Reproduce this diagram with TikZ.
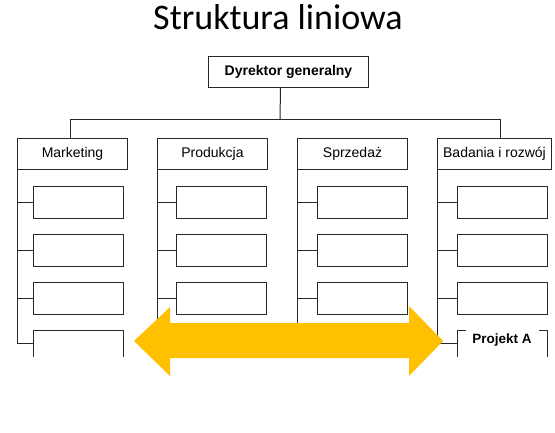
\documentclass[tikz,border=0pt]{standalone}
\usepackage{fontspec}
\setmainfont{Liberation Sans}
\newfontfamily\titlefont{Carlito}
\definecolor{amber}{RGB}{255,192,0}
\definecolor{linec}{RGB}{40,40,40}
\begin{document}
\begin{tikzpicture}[x=1pt,y=-1pt,line width=1pt,
  box/.style={draw=linec,minimum width=#1,minimum height=31pt,inner sep=0pt,anchor=north west,font=\fontsize{14}{16}\selectfont},
  sub/.style={draw=linec,minimum width=90pt,minimum height=32pt,inner sep=0pt,anchor=north west},
  conn/.style={draw=linec,line width=1pt},
  bigarrow/.style={fill=amber,draw=none}]
\useasboundingbox (0,0) rectangle (555,432);
\node[anchor=base,font=\titlefont\fontsize{36}{40}\selectfont] (title) at (278,29) {Struktura liniowa};
\node[box=160pt,font=\bfseries\fontsize{14}{16}\selectfont] (dg) at (208,56) {Dyrektor generalny};
\node[box=110pt] (mk) at (17,138) {Marketing};
\node[box=110pt] (pr) at (157,138) {Produkcja};
\node[box=110pt] (sp) at (297,138) {Sprzedaż};
\node[box=114pt] (br) at (437,138) {Badania i rozwój};
% top connectors
\coordinate (bus) at (280,119);
\draw[conn] ([xshift=-8pt]dg.south) -- (bus);
\draw[conn] ([xshift=-2pt]mk.north) |- (bus);
\draw[conn] ([xshift=6pt]br.north) |- (bus);
% columns
\foreach \c/\s in {mk/33,pr/176,sp/317,br/457}{
  \node[sub] (\c1) at (\s,186) {};
  \node[sub] (\c2) at (\s,234) {};
  \node[sub] (\c3) at (\s,282) {};
  \coordinate (\c4) at (\s,343);
  \draw[conn] (\c.south west) -- (\c4 -| \c.south west);
  \draw[conn] (\c1.west -| \c.south west) -- (\c1.west);
  \draw[conn] (\c2.west -| \c.south west) -- (\c2.west);
  \draw[conn] (\c3.west -| \c.south west) -- (\c3.west);
  \draw[conn] (\c4 -| \c.south west) -- (\c4);
}
% fourth boxes (open at the bottom)
\draw[conn] (mk4) ++(0,14) -- ++(0,-27) -- ++(90,0) -- ++(0,27);
\draw[conn] (br4) ++(0,14) -- ++(0,-27) -- ++(9,0);
\draw[conn] (br4) ++(90,14) -- ++(0,-27) -- ++(-8,0);
\node[anchor=base,font=\bfseries\fontsize{13.5}{16}\selectfont] (pa) at ([xshift=45pt]br4) {Projekt A};
% double arrow
\fill[bigarrow] (134,341) -- (170,307) -- (170,323) -- (409,323) -- (409,306) -- (443,341)
  -- (409,376) -- (409,358) -- (170,358) -- (170,376) -- cycle;
\end{tikzpicture}
\end{document}
